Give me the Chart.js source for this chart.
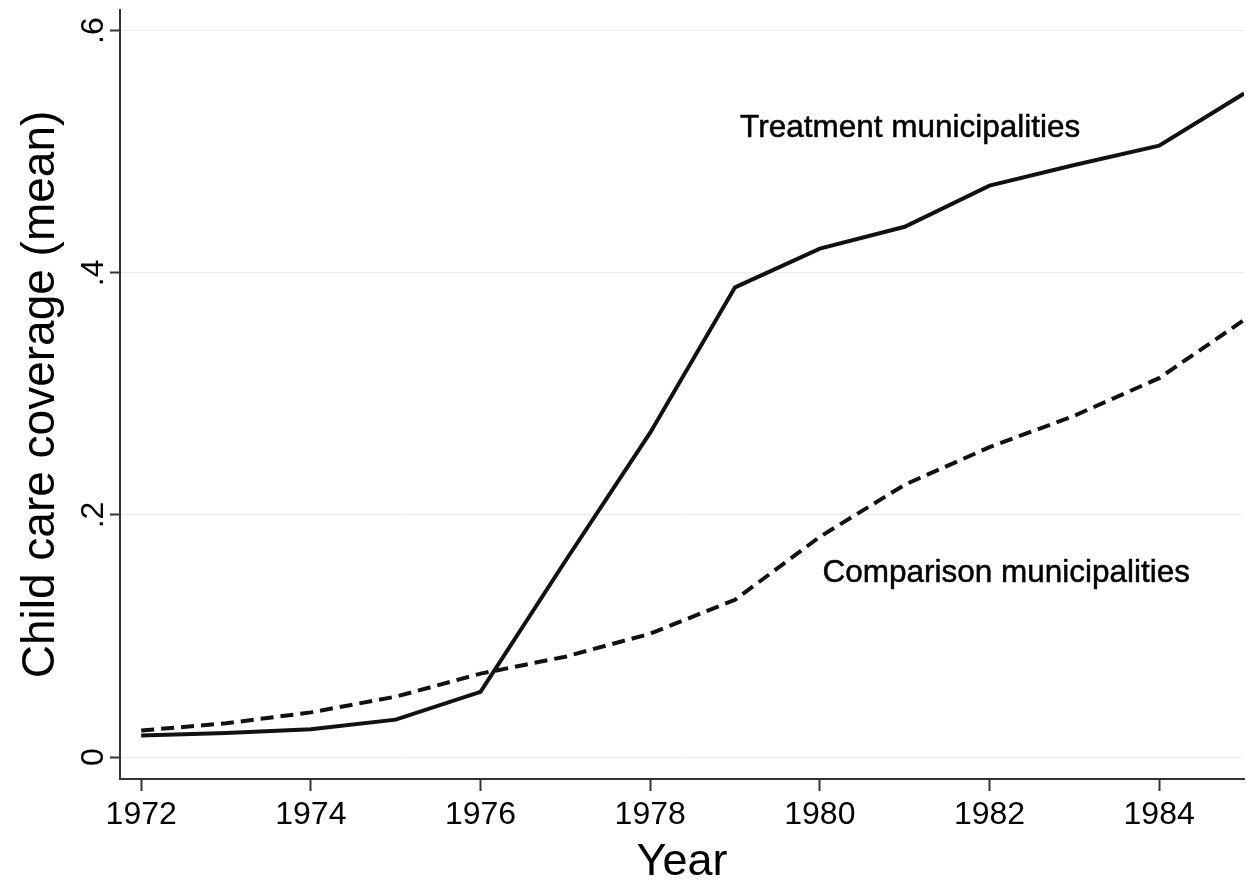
<!DOCTYPE html>
<html>
<head>
<meta charset="utf-8">
<script src="https://cdn.jsdelivr.net/npm/chart.js@4"></script>
<style>
  body { margin: 0; background: #fff; }
  canvas { display: block; }
</style>
</head>
<body>
<canvas id="chart" width="1246" height="885"></canvas>
<script>
const years = [1972, 1973, 1974, 1975, 1976, 1977, 1978, 1979, 1980, 1981, 1982, 1983, 1984, 1985];
const treatment = [0.018, 0.020, 0.023, 0.031, 0.054, 0.162, 0.268, 0.388, 0.420, 0.438, 0.472, 0.489, 0.505, 0.548];
const comparison = [0.022, 0.028, 0.037, 0.050, 0.069, 0.083, 0.102, 0.130, 0.182, 0.225, 0.256, 0.282, 0.313, 0.361];
const xTicks = [1972, 1974, 1976, 1978, 1980, 1982, 1984];
const yTicks = [0, 0.2, 0.4, 0.6];
const yTickLabels = ["0", ".2", ".4", ".6"];
const seriesLabels = ["Treatment municipalities", "Comparison municipalities"];

const FONT = "'Liberation Sans', Arial, sans-serif";

// text labels next to the lines
const lineLabels = {
  id: "lineLabels",
  afterDatasetsDraw(chart) {
    const ctx = chart.ctx;
    const x = chart.scales.x;
    const y = chart.scales.y;
    ctx.save();
    ctx.fillStyle = "#000";
    ctx.strokeStyle = "#000";
    ctx.lineWidth = 0.5;
    ctx.font = "31.5px " + FONT;
    ctx.textAlign = "left";
    ctx.textBaseline = "alphabetic";
    const pos = [[1979.06, 0.512], [1980.03, 0.1445]];
    seriesLabels.forEach(function (txt, i) {
      const px = x.getPixelForValue(pos[i][0]);
      const py = y.getPixelForValue(pos[i][1]);
      ctx.fillText(txt, px, py);
      ctx.strokeText(txt, px, py);
    });
    ctx.restore();
  },
};

var ctx = document.getElementById("chart").getContext("2d");
var myChart = new Chart(ctx, {
  type: "line",
  data: {
    datasets: [
      {
        label: seriesLabels[0],
        data: years.map(function (yr, i) {
          return { x: yr, y: treatment[i] };
        }),
        borderColor: "#111",
        borderWidth: 4,
        pointRadius: 0,
        tension: 0,
      },
      {
        label: seriesLabels[1],
        data: years.map(function (yr, i) {
          return { x: yr, y: comparison[i] };
        }),
        borderColor: "#111",
        borderWidth: 4,
        borderDash: [13, 7],
        pointRadius: 0,
        tension: 0,
      },
    ],
  },
  options: {
    responsive: false,
    animation: false,
    layout: { padding: { top: 10, right: 2, left: 0, bottom: 0 } },
    plugins: {
      legend: { display: false },
      tooltip: { enabled: false },
    },
    scales: {
      x: {
        type: "linear",
        min: 1971.75,
        max: 1985,
        afterBuildTicks: function (scale) {
          scale.ticks = xTicks.map(function (v) { return { value: v }; });
        },
        afterFit: function (scale) { scale.height = 106; },
        ticks: {
          color: "#000",
          font: { family: FONT, size: 32 },
          padding: 5,
          maxRotation: 0,
          callback: function (v) { return String(v); },
        },
        grid: {
          drawOnChartArea: false,
          tickColor: "#333",
          tickLength: 12,
          tickWidth: 2,
        },
        border: { color: "#333", width: 2 },
        title: {
          display: true,
          text: "Year",
          color: "#000",
          font: { family: FONT, size: 45, lineHeight: 1 },
          padding: { top: 0, bottom: 0 },
        },
      },
      y: {
        min: -0.018,
        max: 0.617,
        afterBuildTicks: function (scale) {
          scale.ticks = yTicks.map(function (v) { return { value: v }; });
        },
        afterFit: function (scale) {
          scale.width = 120;
          scale.paddingTop = 0;
          scale.paddingBottom = 0;
        },
        ticks: {
          color: "#000",
          font: { family: FONT, size: 32 },
          minRotation: 90,
          maxRotation: 90,
          crossAlign: "center",
          padding: 2,
          callback: function (v) {
            const i = yTicks.indexOf(v);
            return i >= 0 ? yTickLabels[i] : "";
          },
        },
        grid: {
          color: "#ececec",
          lineWidth: 1,
          tickColor: "#333",
          tickLength: 10,
          tickWidth: 2,
        },
        border: { color: "#333", width: 2 },
        title: {
          display: true,
          text: "Child care coverage (mean)",
          color: "#000",
          font: { family: FONT, size: 46, lineHeight: 1 },
          padding: { top: 18, bottom: 0 },
        },
      },
    },
  },
  plugins: [lineLabels],
});
</script>
</body>
</html>
